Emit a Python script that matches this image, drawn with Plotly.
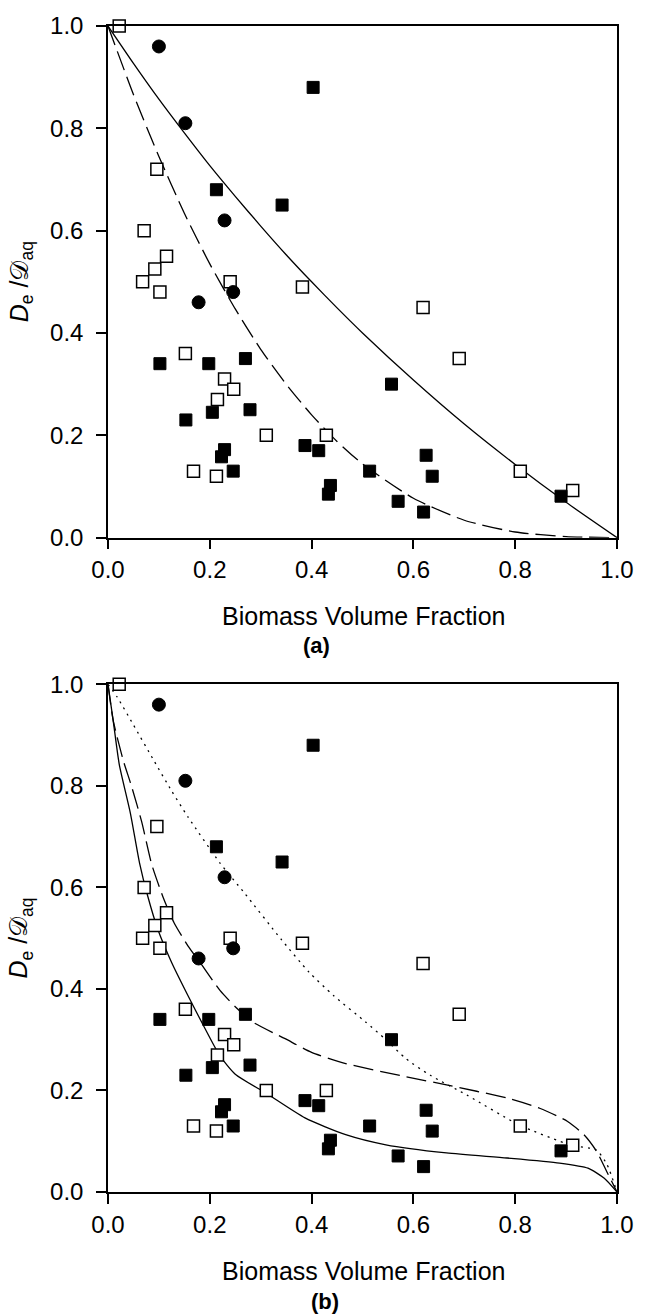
import plotly.graph_objects as go

# ---------------- data ----------------
open_sq_x = [0.022, 0.096, 0.071, 0.115, 0.092, 0.068, 0.102, 0.240, 0.382, 0.619, 0.152,
             0.690, 0.229, 0.247, 0.215, 0.311, 0.429, 0.168, 0.213, 0.810, 0.913]
open_sq_y = [1.00, 0.72, 0.60, 0.55, 0.525, 0.50, 0.48, 0.50, 0.49, 0.45, 0.36,
             0.35, 0.31, 0.29, 0.27, 0.20, 0.20, 0.13, 0.12, 0.13, 0.092]

filled_sq_x = [0.403, 0.213, 0.342, 0.102, 0.198, 0.270, 0.557, 0.153, 0.205, 0.279, 0.387,
               0.414, 0.229, 0.223, 0.625, 0.246, 0.514, 0.637, 0.437, 0.433, 0.570, 0.620, 0.890]
filled_sq_y = [0.88, 0.68, 0.65, 0.34, 0.34, 0.35, 0.30, 0.23, 0.245, 0.25, 0.18,
               0.17, 0.172, 0.158, 0.161, 0.13, 0.13, 0.12, 0.102, 0.085, 0.071, 0.050, 0.081]

circle_x = [0.100, 0.152, 0.229, 0.246, 0.178]
circle_y = [0.96, 0.81, 0.62, 0.48, 0.46]

# panel (a) model curves
a_solid_x = [0.0, 0.05, 0.10, 0.15, 0.20, 0.25, 0.30, 0.35, 0.40, 0.45, 0.50, 0.60, 0.70, 0.80, 0.90, 1.0]
a_solid_y = [1.0, 0.927, 0.857, 0.791, 0.727, 0.667, 0.609, 0.553, 0.50, 0.449, 0.40, 0.308, 0.222, 0.143, 0.069, 0.0]

a_dash_x = [0.0, 0.05, 0.10, 0.15, 0.20, 0.25, 0.30, 0.35, 0.40, 0.45, 0.50, 0.60, 0.70, 0.80, 0.90, 1.0]
a_dash_y = [1.0, 0.866, 0.745, 0.634, 0.535, 0.447, 0.368, 0.30, 0.24, 0.188, 0.144, 0.077, 0.034, 0.011, 0.002, 0.0]

# panel (b) model curves
b_solid_x = [0.0, 0.01, 0.022, 0.044, 0.062, 0.078, 0.098, 0.125, 0.157, 0.189, 0.22, 0.25, 0.31,
             0.387, 0.467, 0.546, 0.665, 0.784, 0.887, 0.943, 0.975, 1.0]
b_solid_y = [1.0, 0.93, 0.843, 0.746, 0.648, 0.583, 0.517, 0.452, 0.387, 0.325, 0.268, 0.232, 0.195,
             0.146, 0.113, 0.093, 0.077, 0.067, 0.057, 0.047, 0.027, 0.0]

b_dash_x = [0.0, 0.01, 0.03, 0.046, 0.066, 0.086, 0.11, 0.13, 0.157, 0.181, 0.22, 0.25, 0.284, 0.348,
            0.40, 0.467, 0.586, 0.665, 0.784, 0.848, 0.903, 0.935, 0.96, 0.98, 1.0]
b_dash_y = [1.0, 0.93, 0.85, 0.80, 0.73, 0.645, 0.576, 0.53, 0.485, 0.452, 0.397, 0.365, 0.335, 0.302,
            0.275, 0.253, 0.227, 0.211, 0.185, 0.165, 0.139, 0.113, 0.08, 0.04, 0.0]

b_dot_x = [0.0, 0.018, 0.05, 0.09, 0.125, 0.157, 0.22, 0.268, 0.34, 0.395, 0.443, 0.506, 0.546,
           0.586, 0.633, 0.705, 0.808, 0.911, 0.959, 0.98, 1.0]
b_dot_y = [1.0, 0.975, 0.92, 0.85, 0.79, 0.739, 0.648, 0.589, 0.498, 0.433, 0.387, 0.335, 0.30,
           0.262, 0.23, 0.191, 0.132, 0.092, 0.083, 0.055, 0.0]

ticks = [0.0, 0.2, 0.4, 0.6, 0.8, 1.0]
tick_text = ["0.0", "0.2", "0.4", "0.6", "0.8", "1.0"]

# ---------------- figure ----------------
FONT = "Liberation Sans, Arial, Helvetica, sans-serif"
fig = go.Figure()

def add_points(xa, ya):
    fig.add_trace(go.Scatter(x=open_sq_x, y=open_sq_y, mode="markers", xaxis=xa, yaxis=ya,
                             marker=dict(symbol="square", size=12, color="white",
                                         line=dict(color="black", width=1.5)),
                             cliponaxis=False, showlegend=False))
    fig.add_trace(go.Scatter(x=filled_sq_x, y=filled_sq_y, mode="markers", xaxis=xa, yaxis=ya,
                             marker=dict(symbol="square", size=12, color="black",
                                         line=dict(color="black", width=1)),
                             cliponaxis=False, showlegend=False))
    fig.add_trace(go.Scatter(x=circle_x, y=circle_y, mode="markers", xaxis=xa, yaxis=ya,
                             marker=dict(symbol="circle", size=13, color="black",
                                         line=dict(color="black", width=1)),
                             cliponaxis=False, showlegend=False))

def add_line(xs, ys, xa, ya, dash):
    fig.add_trace(go.Scatter(x=xs, y=ys, mode="lines", xaxis=xa, yaxis=ya,
                             line=dict(color="black", width=1.3, dash=dash, shape="spline", smoothing=0.6),
                             showlegend=False))

# panel (a)
add_line(a_solid_x, a_solid_y, "x", "y", "solid")
add_line(a_dash_x, a_dash_y, "x", "y", "20px,7px")
add_points("x", "y")
# panel (b)
add_line(b_solid_x, b_solid_y, "x2", "y2", "solid")
add_line(b_dash_x, b_dash_y, "x2", "y2", "20px,7px")
add_line(b_dot_x, b_dot_y, "x2", "y2", "2px,5px")
add_points("x2", "y2")

axis_common = dict(range=[0, 1], tickvals=ticks, ticktext=tick_text, ticks="outside", ticklen=10,
                   tickwidth=1.5, tickcolor="black", showline=True, linecolor="black", linewidth=1.5,
                   mirror=True, showgrid=False, zeroline=False,
                   tickfont=dict(family=FONT, size=24, color="black"))

fig.update_layout(
    width=646, height=1316,
    margin=dict(l=108, r=20, t=16, b=124),
    paper_bgcolor="white", plot_bgcolor="white",
    xaxis=dict(domain=[0, 1], anchor="y", **axis_common),
    yaxis=dict(domain=[0.5612, 1], anchor="x", ticklabelstandoff=8, **axis_common),
    xaxis2=dict(domain=[0, 1], anchor="y2", **axis_common),
    yaxis2=dict(domain=[0, 0.4354], anchor="x2", ticklabelstandoff=8, **axis_common),
)

def ann(text, x, y, size=25, angle=0, bold=False):
    if bold:
        text = "<b>" + text + "</b>"
    fig.add_annotation(text=text, x=x, y=y, xref="paper", yref="paper", showarrow=False,
                       xanchor="center", yanchor="middle", textangle=angle,
                       font=dict(family=FONT, size=size, color="black"))

ytitle = "<i>D</i><sub>e</sub> /𝒟<sub>aq</sub>"
ann("Biomass Volume Fraction", 0.501, 0.4940)
ann("(a)", 0.410, 0.4685, size=22, bold=True)
ann("Biomass Volume Fraction", 0.501, -0.0680)
ann("(b)", 0.427, -0.0935, size=22, bold=True)
ann(ytitle, -0.172, 0.7806, angle=-90)
ann(ytitle, -0.172, 0.2177, angle=-90)

fig.write_html("out.html")
